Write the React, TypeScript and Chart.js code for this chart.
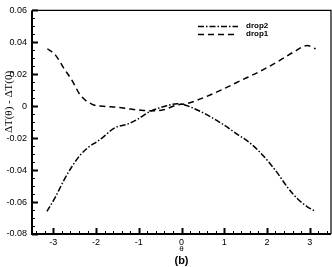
import React, { useEffect, useRef } from "react";
import { Chart, registerables } from "chart.js";

Chart.register(...registerables);

const drop1Theta = [-3.14, -2.95, -2.76, -2.56, -2.37, -2.09, -1.83, -1.5, -1.19, -0.89, -0.65, -0.42, -0.1, 0.1, 0.37, 0.91, 1.38, 1.85, 2.32, 2.63, 2.94, 3.14];
const drop1Values = [0.036, 0.032, 0.024, 0.016, 0.007, 0.0012, 0.0, -0.0006, -0.0018, -0.0026, -0.0028, -0.0022, 0.0008, 0.0015, 0.0038, 0.0099, 0.016, 0.022, 0.029, 0.034, 0.038, 0.036];

const drop2Theta = [-3.15, -2.95, -2.76, -2.56, -2.37, -2.17, -1.97, -1.82, -1.62, -1.5, -1.27, -1.04, -0.73, -0.41, -0.1, 0.05, 0.44, 0.91, 1.3, 1.62, 1.93, 2.24, 2.48, 2.71, 2.94, 3.14];
const drop2Values = [-0.0659, -0.0568, -0.0467, -0.0376, -0.0305, -0.0255, -0.022, -0.019, -0.0145, -0.0128, -0.0113, -0.0083, -0.0032, -0.0002, 0.0016, 0.001, -0.0032, -0.0103, -0.0174, -0.0234, -0.0315, -0.0416, -0.0507, -0.0578, -0.0628, -0.0659];

const xTicks = [-3, -2, -1, 0, 1, 2, 3];
const yTicks = [-0.08, -0.06, -0.04, -0.02, 0, 0.02, 0.04, 0.06];
const seriesNames = ["drop2", "drop1"];
const xTitle = "θ";
const yTitle = "ΔT(θ) - ΔT(0)";
const caption = "(b)";

const DASH1 = [6, 4];
const DASH2 = [6, 2, 1.5, 2];

const decorPlugin = {
  id: "decor",
  afterDraw(chart: any) {
    const { ctx, chartArea: a, scales } = chart;
    const xs = scales.x;
    const ys = scales.y;
    ctx.save();
    ctx.strokeStyle = "#000";
    // frame
    ctx.lineWidth = 1.2;
    ctx.beginPath();
    ctx.moveTo(a.left, a.top);
    ctx.lineTo(a.right, a.top);
    ctx.lineTo(a.right, a.bottom);
    ctx.stroke();
    ctx.lineWidth = 2;
    ctx.beginPath();
    ctx.moveTo(a.left, a.top);
    ctx.lineTo(a.left, a.bottom);
    ctx.lineTo(a.right, a.bottom);
    ctx.stroke();
    // x ticks inward
    ctx.lineWidth = 1;
    for (let i = -35; i <= 35; i++) {
      const v = i / 10;
      if (Math.abs(i) % 2 !== 0) continue;
      const px = Math.round(xs.getPixelForValue(v)) + 0.5;
      const major = i % 10 === 0;
      const len = major ? 6 : 3;
      ctx.lineWidth = major ? 2 : 1;
      ctx.beginPath();
      ctx.moveTo(px, a.bottom);
      ctx.lineTo(px, a.bottom - len);
      ctx.stroke();
    }
    for (let i = -16; i <= 12; i++) {
      const v = i * 0.005;
      const py = Math.round(ys.getPixelForValue(v)) + 0.5;
      const major = i % 4 === 0;
      const len = major ? 6 : 3;
      ctx.lineWidth = major ? 2 : 1;
      ctx.beginPath();
      ctx.moveTo(a.left, py);
      ctx.lineTo(a.left + len, py);
      ctx.stroke();
    }
    // legend
    const lx0 = 198, lx1 = 238, tx = 246;
    const ly = [26, 34];
    const dashes = [DASH2, DASH1];
    ctx.font = "bold 8px 'Liberation Sans', Arial, sans-serif";
    ctx.fillStyle = "#000";
    ctx.textBaseline = "middle";
    ctx.textAlign = "left";
    for (let k = 0; k < 2; k++) {
      ctx.lineWidth = 1.5;
      ctx.setLineDash(dashes[k]);
      ctx.beginPath();
      ctx.moveTo(lx0, ly[k] + 0.5);
      ctx.lineTo(lx1, ly[k] + 0.5);
      ctx.stroke();
      ctx.setLineDash([]);
      ctx.fillText(seriesNames[k], tx, ly[k]);
    }
    // titles
    const cx = xs.getPixelForValue(0);
    ctx.textAlign = "center";
    ctx.font = "8px 'Liberation Sans', Arial, sans-serif";
    ctx.fillText(xTitle, cx, 249);
    ctx.font = "bold 11px 'Liberation Sans', Arial, sans-serif";
    ctx.fillText(caption, cx, 261);
    ctx.save();
    ctx.translate(9, 102);
    ctx.rotate(-Math.PI / 2);
    ctx.font = "11px 'Liberation Serif', 'Times New Roman', serif";
    ctx.fillText(yTitle, 0, 0);
    ctx.restore();
    ctx.restore();
  },
};

export default function App() {
  const ref = useRef<HTMLCanvasElement | null>(null);
  useEffect(() => {
    if (!ref.current) return;
    const chart = new Chart(ref.current, {
      type: "line",
      data: {
        datasets: [
          {
            label: seriesNames[0],
            data: drop2Theta.map((t, i) => ({ x: t, y: drop2Values[i] })),
            borderColor: "#000",
            borderWidth: 1.5,
            borderDash: DASH2,
            pointRadius: 0,
            fill: false,
            cubicInterpolationMode: "monotone",
          },
          {
            label: seriesNames[1],
            data: drop1Theta.map((t, i) => ({ x: t, y: drop1Values[i] })),
            borderColor: "#000",
            borderWidth: 1.5,
            borderDash: DASH1,
            pointRadius: 0,
            fill: false,
            cubicInterpolationMode: "monotone",
          },
        ],
      },
      options: {
        animation: false,
        responsive: false,
        devicePixelRatio: 1,
        layout: { padding: { left: 0, right: 1, top: 4, bottom: 0 } },
        plugins: { legend: { display: false }, tooltip: { enabled: false } },
        scales: {
          x: {
            type: "linear",
            min: -3.5,
            max: 3.5,
            grid: { display: false, drawTicks: false },
            border: { display: false },
            afterBuildTicks: (s: any) => {
              s.ticks = xTicks.map((v) => ({ value: v }));
            },
            afterFit: (s: any) => {
              s.height = 33;
            },
            ticks: {
              padding: 3,
              color: "#000",
              font: { size: 9, family: "'Liberation Sans', Arial, sans-serif" },
              maxRotation: 0,
              autoSkip: false,
              callback: (v: any) => String(v),
            },
          },
          y: {
            type: "linear",
            min: -0.08,
            max: 0.06,
            grid: { display: false, drawTicks: false },
            border: { display: false },
            afterBuildTicks: (s: any) => {
              s.ticks = yTicks.map((v) => ({ value: v }));
            },
            afterFit: (s: any) => {
              s.width = 32;
            },
            ticks: {
              padding: 5,
              color: "#000",
              font: { size: 9, family: "'Liberation Sans', Arial, sans-serif" },
              autoSkip: false,
              callback: (v: any) => (Math.abs(v) < 1e-9 ? "0" : Number(v).toFixed(2)),
            },
          },
        },
      },
      plugins: [decorPlugin],
    } as any);
    return () => chart.destroy();
  }, []);
  return (
    <div style={{ position: "fixed", left: 0, top: 0, width: 332, height: 267, background: "#fff" }}>
      <canvas ref={ref} width={332} height={267} style={{ width: 332, height: 267, display: "block" }} />
    </div>
  );
}
